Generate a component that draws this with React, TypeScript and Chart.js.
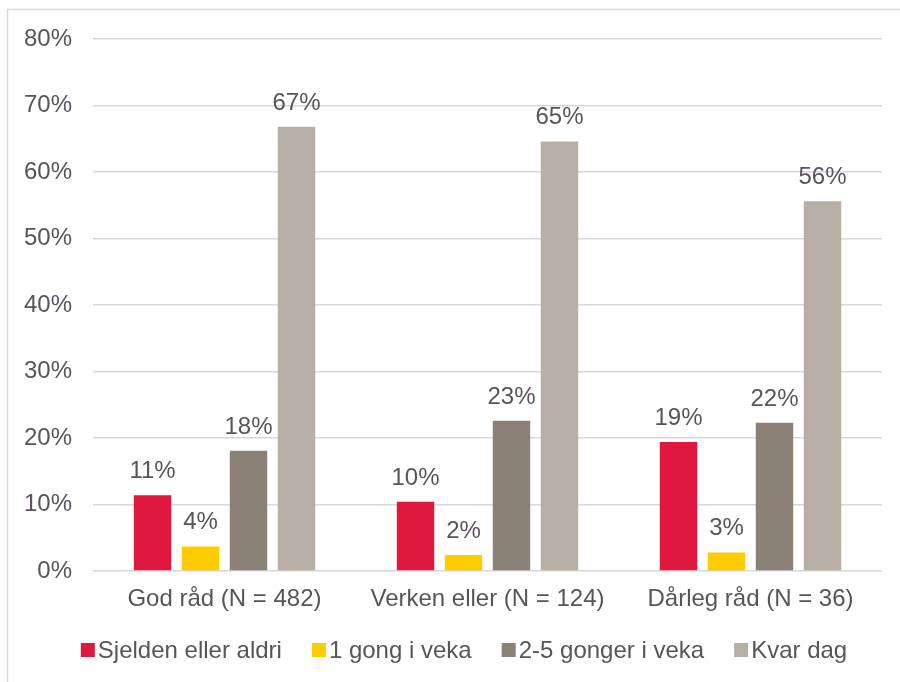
import React, { useEffect, useRef } from "react";
import { Chart, registerables } from "chart.js";

Chart.register(...registerables);

const categories = ["God råd (N = 482)", "Verken eller (N = 124)", "Dårleg råd (N = 36)"];
const seriesNames = ["Sjelden eller aldri", "1 gong i veka", "2-5 gonger i veka", "Kvar dag"];
const sjelden = [11.4, 10.4, 19.4];
const eingong = [3.7, 2.4, 2.8];
const toFem = [18.1, 22.6, 22.3];
const kvarDag = [66.8, 64.6, 55.6];
const seriesColors = ["#E0173F", "#FFCC00", "#8B8177", "#B7AEA5"];
const yTicks = [0, 10, 20, 30, 40, 50, 60, 70, 80];

const FONT = '"Liberation Sans", Arial, sans-serif';
const TEXT = "#5B525E";
const GRID = "#DAD5DA";

export default function App() {
  const ref = useRef<HTMLCanvasElement | null>(null);

  useEffect(() => {
    const canvas = ref.current;
    if (!canvas) return;

    const frame = {
      id: "frame",
      beforeDraw(chart: any) {
        const ctx = chart.ctx;
        ctx.save();
        ctx.fillStyle = "#ffffff";
        ctx.fillRect(0, 0, chart.width, chart.height);
        ctx.strokeStyle = "#D9D9D9";
        ctx.lineWidth = 1.5;
        ctx.beginPath();
        ctx.moveTo(7.5, chart.height);
        ctx.lineTo(7.5, 9.5);
        ctx.lineTo(chart.width, 9.5);
        ctx.stroke();
        ctx.restore();
      },
    };

    const labelsPlugin = {
      id: "valueLabels",
      afterDatasetsDraw(chart: any) {
        const ctx = chart.ctx;
        ctx.save();
        ctx.font = `24px ${FONT}`;
        ctx.fillStyle = TEXT;
        ctx.textAlign = "center";
        ctx.textBaseline = "alphabetic";
        chart.data.datasets.forEach((ds: any, i: number) => {
          const meta = chart.getDatasetMeta(i);
          meta.data.forEach((bar: any, j: number) => {
            const v = ds.data[j];
            ctx.fillText(Math.round(v) + "%", bar.x, bar.y - 17);
          });
        });
        ctx.restore();
      },
    };

    const legendPlugin = {
      id: "customLegend",
      afterDraw(chart: any) {
        const ctx = chart.ctx;
        ctx.save();
        ctx.font = `24px ${FONT}`;
        const box = 14;
        const gap = 3;
        const itemGap = 30;
        const widths = seriesNames.map((n) => ctx.measureText(n).width);
        const total =
          widths.reduce((a, w) => a + box + gap + w, 0) + itemGap * (seriesNames.length - 1);
        let x = 464 - total / 2;
        const yMid = 650;
        ctx.textBaseline = "middle";
        ctx.textAlign = "left";
        seriesNames.forEach((n, i) => {
          ctx.fillStyle = seriesColors[i];
          ctx.fillRect(x, yMid - box / 2, box, box);
          ctx.fillStyle = TEXT;
          ctx.fillText(n, x + box + gap, yMid + 1);
          x += box + gap + widths[i] + itemGap;
        });
        ctx.restore();
      },
    };

    const datasets = [sjelden, eingong, toFem, kvarDag].map((d, i) => ({
      label: seriesNames[i],
      data: d,
      backgroundColor: seriesColors[i],
      borderWidth: 0,
      categoryPercentage: 0.73,
      barPercentage: 0.78,
    }));

    const chart = new Chart(canvas, {
      type: "bar",
      data: { labels: categories, datasets },
      plugins: [frame, labelsPlugin, legendPlugin],
      options: {
        responsive: false,
        animation: false,
        devicePixelRatio: 1,
        layout: { padding: { left: 0, top: 39, right: 18, bottom: 0 } },
        plugins: {
          legend: { display: false },
          tooltip: { enabled: false },
        },
        scales: {
          x: {
            grid: { display: false, drawTicks: false },
            border: { display: false },
            ticks: {
              color: TEXT,
              font: { family: FONT, size: 24 },
              padding: 14,
              maxRotation: 0,
              autoSkip: false,
            },
            afterFit(scale: any) {
              scale.height = 111;
            },
          },
          y: {
            min: 0,
            max: 80,
            afterBuildTicks(scale: any) {
              scale.ticks = yTicks.map((v) => ({ value: v }));
            },
            grid: { color: GRID, lineWidth: 1.5, drawTicks: false },
            border: { display: false },
            ticks: {
              color: TEXT,
              font: { family: FONT, size: 24 },
              padding: 21,
              callback: (v: any) => v + "%",
            },
            afterFit(scale: any) {
              scale.width = 93;
            },
          },
        },
      },
    });

    return () => chart.destroy();
  }, []);

  return (
    <div style={{ position: "absolute", left: 0, top: 0, width: 900, height: 682, background: "#fff" }}>
      <canvas ref={ref} width={900} height={682} style={{ display: "block", width: 900, height: 682 }} />
    </div>
  );
}
